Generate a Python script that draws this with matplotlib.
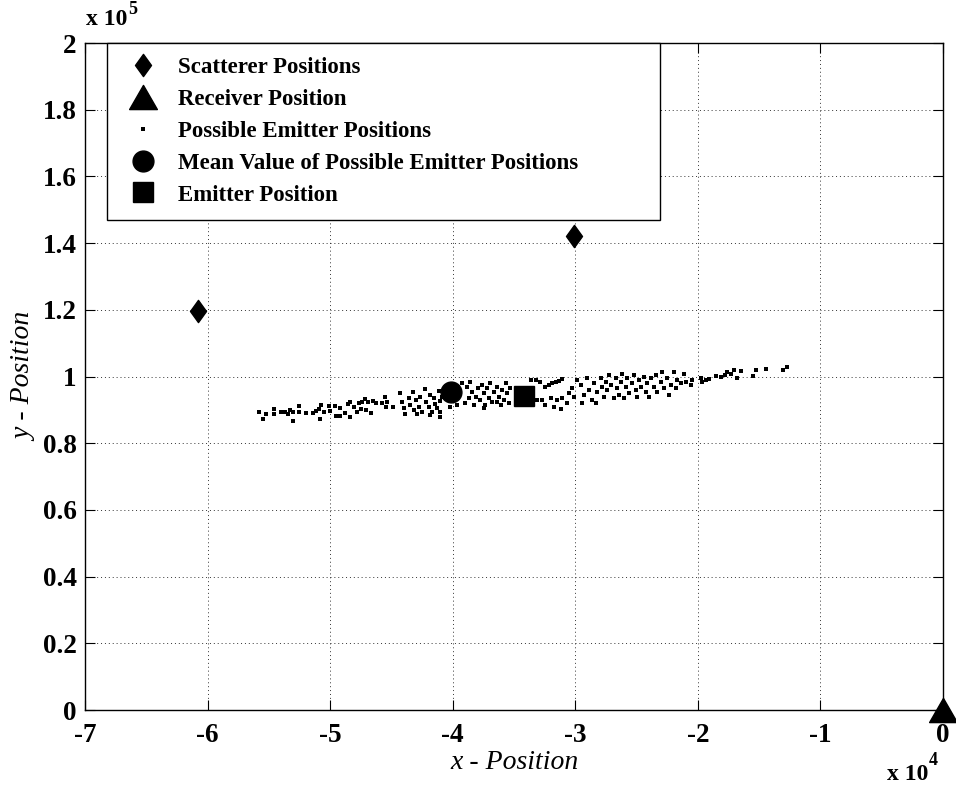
import matplotlib
matplotlib.use("Agg")
import matplotlib.pyplot as plt
from matplotlib.path import Path

# ---- data (x in units of 1e4, y in units of 1e5) ----
scatterer_x = [-6.08, -3.01]
scatterer_y = [1.196, 1.421]
receiver_x = [0.0]
receiver_y = [0.0]
mean_x = [-4.01]
mean_y = [0.953]
emitter_x = [-3.42]
emitter_y = [0.942]

possible_x = [
    -5.584, -5.549, -5.522, -5.462, -5.462, -5.402, -5.385, -5.369, -5.344, -5.331,
    -5.307, -5.299, -5.258, -5.255, -5.195, -5.140, -5.113, -5.094, -5.086, -5.075,
    -5.048, -5.013, -5.005, -4.958, -4.952, -4.923, -4.917, -4.876, -4.854, -4.836,
    -4.841, -4.809, -4.781, -4.762, -4.748, -4.740, -4.719, -4.707, -4.694, -4.666,
    -4.650, -4.623, -4.577, -4.550, -4.541, -4.536, -4.487, -4.433, -4.413, -4.400,
    -4.386, -4.359, -4.345, -4.323, -4.318, -4.296, -4.278, -4.264, -4.250, -4.223,
    -4.215, -4.196, -4.182, -4.168, -4.155, -4.141, -4.127, -4.114, -4.100, -4.100,
    -4.086, -3.923, -3.882, -3.855, -3.841, -3.869, -3.896, -3.828, -3.814, -3.796,
    -3.774, -3.760, -3.747, -3.733, -3.719, -3.706, -3.692, -3.678, -3.665, -3.637,
    -3.624, -3.610, -3.596, -3.583, -3.569, -3.556, -3.543, -3.529, -3.637, -3.747,
    -3.964, -4.019, -4.182, -4.291, -4.100, -3.365, -3.324, -3.284, -3.243, -3.216,
    -3.188, -3.161, -3.134, -3.106, -3.311, -3.270, -3.243, -3.202, -3.175, -3.147,
    -3.120, -3.106, -3.066, -3.052, -3.025, -3.012, -2.984, -2.957, -2.943, -2.930,
    -2.902, -2.889, -2.861, -2.848, -2.834, -2.820, -2.794, -2.780, -2.767, -2.753,
    -2.739, -2.726, -2.712, -2.685, -2.671, -2.657, -2.644, -2.630, -2.616, -2.603,
    -2.589, -2.575, -2.562, -2.535, -2.522, -2.508, -2.494, -2.481, -2.467, -2.440,
    -2.426, -2.412, -2.399, -2.385, -2.358, -2.344, -2.330, -2.303, -2.290, -2.276,
    -2.249, -2.236, -2.222, -2.195, -2.181, -2.167, -2.140, -2.113, -2.099, -2.058,
    -2.045, -1.977, -1.963, -1.936, -1.909, -1.854, -1.813, -1.781, -1.759, -1.732,
    -1.705, -1.677, -1.650, -1.554, -1.528, -1.446, -1.309, -1.269,
]
possible_y = [
    0.8945, 0.8726, 0.8867, 0.9025, 0.8867, 0.8936, 0.8936, 0.8936, 0.8867, 0.8987,
    0.8675, 0.8927, 0.9115, 0.8927, 0.8897, 0.8897, 0.8957, 0.9016, 0.8726, 0.9136,
    0.8945, 0.9115, 0.8975, 0.9115, 0.8816, 0.9055, 0.8816, 0.8915, 0.9166, 0.9226,
    0.8795, 0.9094, 0.8945, 0.9196, 0.9025, 0.9244, 0.9325, 0.8996, 0.9226, 0.8897,
    0.9265, 0.9196, 0.9196, 0.9394, 0.9076, 0.9244, 0.9094, 0.9496, 0.9244, 0.9064,
    0.8867, 0.9364, 0.9145, 0.9544, 0.8996, 0.9295, 0.9094, 0.9394, 0.8945, 0.9625,
    0.9244, 0.9094, 0.9445, 0.8945, 0.9346, 0.9166, 0.9046, 0.9565, 0.9265, 0.8945,
    0.9394, 0.9796, 0.9694, 0.9844, 0.9544, 0.9346, 0.9196, 0.9145, 0.9394, 0.9646,
    0.9295, 0.9745, 0.9496, 0.9145, 0.9646, 0.9346, 0.9796, 0.9244, 0.9544, 0.9694,
    0.9394, 0.9145, 0.9595, 0.9295, 0.9796, 0.9496, 0.9196, 0.9646, 0.9244, 0.9046,
    0.9145, 0.9094, 0.8846, 0.8867, 0.8795, 0.9895, 0.9895, 0.9844, 0.9694, 0.9745,
    0.9796, 0.9844, 0.9865, 0.9925, 0.9295, 0.9295, 0.9145, 0.9346, 0.9094, 0.9295,
    0.9016, 0.9346, 0.9196, 0.9496, 0.9646, 0.9394, 0.9895, 0.9745, 0.9196, 0.9445,
    0.9946, 0.9595, 0.9295, 0.9796, 0.9196, 0.9544, 0.9946, 0.9694, 0.9394, 0.9844,
    0.9595, 1.0045, 0.9745, 0.9346, 0.9946, 0.9646, 0.9445, 0.9844, 1.0066, 0.9346,
    0.9694, 0.9946, 0.9496, 0.9796, 1.0045, 0.9595, 0.9394, 0.9895, 0.9694, 0.9994,
    0.9544, 0.9796, 0.9394, 0.9946, 0.9694, 1.0045, 0.9544, 0.9844, 1.0144, 0.9646,
    0.9946, 0.9445, 0.9745, 1.0126, 0.9646, 0.9895, 0.9796, 1.0075, 0.9844, 0.9745,
    0.9895, 0.9946, 0.9844, 0.9895, 0.9925, 1.0024, 0.9994, 1.0045, 1.0144, 1.0066,
    1.0195, 0.9946, 1.0165, 1.0015, 1.0195, 1.0225, 1.0195, 1.0294,
]

x_ticks = [-7, -6, -5, -4, -3, -2, -1, 0]
y_ticks = [0, 0.2, 0.4, 0.6, 0.8, 1, 1.2, 1.4, 1.6, 1.8, 2]
y_ticklabels = ["0", "0.2", "0.4", "0.6", "0.8", "1", "1.2", "1.4", "1.6", "1.8", "2"]

labels = ["Scatterer Positions", "Receiver Position", "Possible Emitter Positions",
          "Mean Value of Possible Emitter Positions", "Emitter Position"]

SERIF = "Liberation Serif"

fig = plt.figure(figsize=(9.56, 7.89), dpi=100)
ax = fig.add_axes([0.0889, 0.1001, 0.8975, 0.8454])

diamond = Path([(0, 1), (0.72, 0), (0, -1), (-0.72, 0), (0, 1)],
               [Path.MOVETO, Path.LINETO, Path.LINETO, Path.LINETO, Path.CLOSEPOLY])
triangle = Path([(0, 1), (1.15, -1), (-1.15, -1), (0, 1)],
                [Path.MOVETO, Path.LINETO, Path.LINETO, Path.CLOSEPOLY])

h1, = ax.plot(scatterer_x, scatterer_y, linestyle="none", marker=diamond,
              markersize=16, color="black", label=labels[0], clip_on=False, zorder=5)
h2, = ax.plot(receiver_x, receiver_y, linestyle="none", marker=triangle,
              markersize=20, color="black", label=labels[1], clip_on=False, zorder=5)
h3, = ax.plot(possible_x, possible_y, linestyle="none", marker="s",
              markersize=2.6, color="black", markeredgewidth=0, label=labels[2], zorder=4)
h4, = ax.plot(mean_x, mean_y, linestyle="none", marker="o",
              markersize=15, color="black", label=labels[3], zorder=5)
h5, = ax.plot(emitter_x, emitter_y, linestyle="none", marker="s",
              markersize=14.5, color="black", label=labels[4], zorder=5)

ax.set_xlim(-7, 0)
ax.set_ylim(0, 2)
ax.set_xticks(x_ticks)
ax.set_xticklabels([str(t) for t in x_ticks])
ax.set_yticks(y_ticks)
ax.set_yticklabels(y_ticklabels)

ax.grid(True, linestyle=(0, (1, 3)), color="black", linewidth=0.7, alpha=0.8)
ax.tick_params(direction="in", length=7, width=0.8, top=True, right=True)
ax.tick_params(axis="x", pad=9)
ax.tick_params(axis="y", pad=6)
for lab in ax.get_xticklabels() + ax.get_yticklabels():
    lab.set_fontfamily(SERIF)
    lab.set_fontweight("bold")
    lab.set_fontsize(19.5)
for s in ax.spines.values():
    s.set_linewidth(1.0)

ax.set_xlabel("x - Position", fontfamily=SERIF, fontstyle="italic", fontsize=20, labelpad=2)
ax.set_ylabel("y - Position", fontfamily=SERIF, fontstyle="italic", fontsize=20, labelpad=4)

# MATLAB-style exponent labels
fig.text(0.090, 0.968, "x 10", fontfamily=SERIF, fontweight="bold",
         fontsize=17, ha="left", va="baseline")
fig.text(0.134, 0.982, "5", fontfamily=SERIF, fontweight="bold",
         fontsize=13, ha="left", va="baseline")
fig.text(0.928, 0.0114, "x 10", fontfamily=SERIF, fontweight="bold",
         fontsize=17, ha="left", va="baseline")
fig.text(0.972, 0.0300, "4", fontfamily=SERIF, fontweight="bold",
         fontsize=13, ha="left", va="baseline")

leg = ax.legend(handles=[h1, h2, h3, h4, h5], loc="upper left",
                bbox_to_anchor=(0.0256, 0.0, 0.6445, 1.0), mode="expand",
                borderaxespad=0,
                prop={"family": SERIF, "weight": "bold", "size": 16.5},
                frameon=True, fancybox=False, framealpha=1, edgecolor="black",
                labelspacing=0.47, handletextpad=0.58, borderpad=0.62,
                handlelength=1.9, markerscale=1.0)
leg.get_frame().set_linewidth(1.0)
leg.set_zorder(10)

fig.savefig("out.png", dpi=100)
